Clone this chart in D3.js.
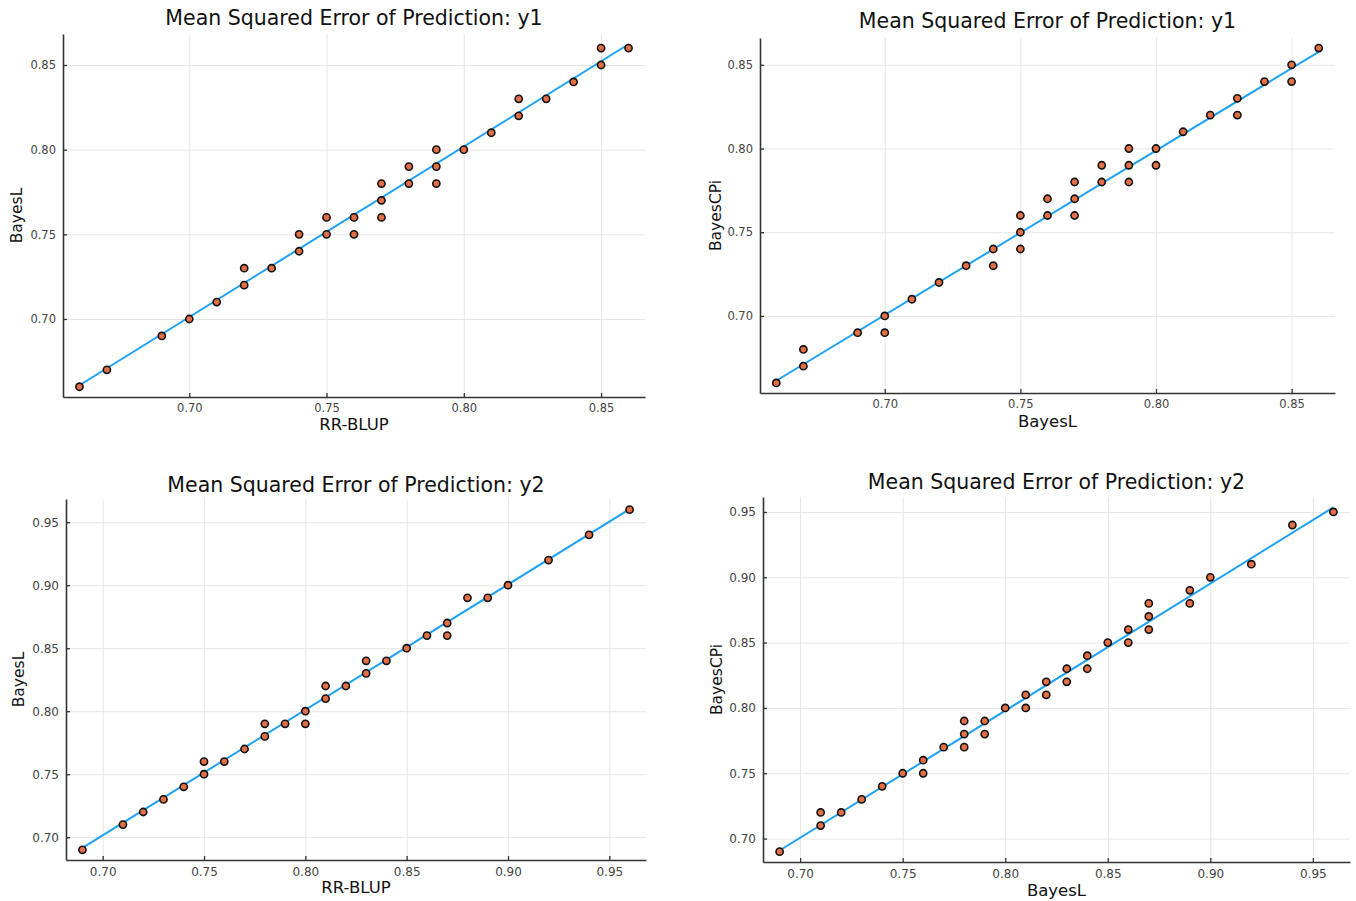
<!DOCTYPE html>
<html>
<head>
<meta charset="utf-8">
<script src="https://cdn.jsdelivr.net/npm/d3@7"></script>
<style>
  html, body { margin: 0; padding: 0; background: #fff; }
  svg { display: block; }
  text { font-family: "DejaVu Sans", sans-serif; }
</style>
</head>
<body>
<svg id="chart" width="1356" height="901"></svg>
<script>
// ---- Data: MSE of prediction per replicate, compared between methods ----
// y1: RR-BLUP (x) vs BayesL (y)
const y1RRBLUP   = [0.66,0.67,0.69,0.70,0.71,0.72,0.72,0.73,0.74,0.74,0.75,0.75,0.76,0.76,0.77,0.77,0.77,0.78,0.78,0.79,0.79,0.79,0.80,0.81,0.82,0.82,0.83,0.84,0.85,0.85,0.86];
const y1BayesLvR = [0.66,0.67,0.69,0.70,0.71,0.72,0.73,0.73,0.74,0.75,0.75,0.76,0.76,0.75,0.77,0.78,0.76,0.78,0.79,0.79,0.80,0.78,0.80,0.81,0.82,0.83,0.83,0.84,0.85,0.86,0.86];
// y1: BayesL (x) vs BayesCPi (y)
const y1BayesL   = [0.66,0.67,0.67,0.69,0.70,0.70,0.71,0.72,0.73,0.74,0.74,0.75,0.75,0.75,0.76,0.76,0.77,0.77,0.77,0.78,0.78,0.79,0.79,0.79,0.80,0.80,0.81,0.82,0.83,0.83,0.84,0.85,0.85,0.86];
const y1BayesCPi = [0.66,0.68,0.67,0.69,0.70,0.69,0.71,0.72,0.73,0.74,0.73,0.75,0.76,0.74,0.76,0.77,0.77,0.78,0.76,0.78,0.79,0.79,0.80,0.78,0.80,0.79,0.81,0.82,0.83,0.82,0.84,0.85,0.84,0.86];
// y2: RR-BLUP (x) vs BayesL (y)
const y2RRBLUP   = [0.69,0.71,0.72,0.73,0.74,0.75,0.75,0.76,0.77,0.78,0.78,0.79,0.80,0.80,0.81,0.81,0.82,0.83,0.83,0.84,0.85,0.86,0.87,0.87,0.88,0.89,0.90,0.92,0.94,0.96];
const y2BayesLvR = [0.69,0.71,0.72,0.73,0.74,0.75,0.76,0.76,0.77,0.78,0.79,0.79,0.80,0.79,0.81,0.82,0.82,0.83,0.84,0.84,0.85,0.86,0.87,0.86,0.89,0.89,0.90,0.92,0.94,0.96];
// y2: BayesL (x) vs BayesCPi (y)
const y2BayesL   = [0.69,0.71,0.71,0.72,0.73,0.74,0.75,0.76,0.76,0.77,0.78,0.78,0.78,0.79,0.79,0.80,0.81,0.81,0.82,0.82,0.83,0.83,0.84,0.84,0.85,0.86,0.86,0.87,0.87,0.87,0.89,0.89,0.90,0.92,0.94,0.96];
const y2BayesCPi = [0.69,0.72,0.71,0.72,0.73,0.74,0.75,0.76,0.75,0.77,0.79,0.78,0.77,0.79,0.78,0.80,0.81,0.80,0.82,0.81,0.83,0.82,0.84,0.83,0.85,0.86,0.85,0.88,0.87,0.86,0.89,0.88,0.90,0.91,0.94,0.95];

// Tick values
const ticksY1 = [0.70, 0.75, 0.80, 0.85];
const ticksY2 = [0.70, 0.75, 0.80, 0.85, 0.90, 0.95];

// Titles and axis labels
const titleY1 = "Mean Squared Error of Prediction: y1";
const titleY2 = "Mean Squared Error of Prediction: y2";

const COLOR_LINE = "#1EA1F5";
const COLOR_MARK = "#E36F47";

const svg = d3.select("#chart");

// Panel boxes (plot area in page pixels)
const panels = [
  { xs: y1RRBLUP, ys: y1BayesLvR, ticks: ticksY1, title: titleY1, xLabel: "RR-BLUP", yLabel: "BayesL",
    box: { l: 63, r: 645, t: 34, b: 397 }, titleY: 25, xLabelY: 430, yLabelX: 22, tickFont: 11.5 },
  { xs: y1BayesL, ys: y1BayesCPi, ticks: ticksY1, title: titleY1, xLabel: "BayesL", yLabel: "BayesCPi",
    box: { l: 760, r: 1335, t: 38, b: 393 }, titleY: 28, xLabelY: 427, yLabelX: 721, tickFont: 11.5 },
  { xs: y2RRBLUP, ys: y2BayesLvR, ticks: ticksY2, title: titleY2, xLabel: "RR-BLUP", yLabel: "BayesL",
    box: { l: 66, r: 646, t: 499, b: 860 }, titleY: 492, xLabelY: 893, yLabelX: 24, tickFont: 12 },
  { xs: y2BayesL, ys: y2BayesCPi, ticks: ticksY2, title: titleY2, xLabel: "BayesL", yLabel: "BayesCPi",
    box: { l: 763, r: 1350, t: 497, b: 862 }, titleY: 489, xLabelY: 896, yLabelX: 722, tickFont: 12 }
];

// Ordinary least-squares fit of y on x
function linearFit(xs, ys) {
  const mx = d3.mean(xs), my = d3.mean(ys);
  let sxy = 0, sxx = 0;
  xs.forEach((x, i) => { sxy += (x - mx) * (ys[i] - my); sxx += (x - mx) * (x - mx); });
  const slope = sxy / sxx;
  const intercept = my - slope * mx;
  return x => intercept + slope * x;
}

// Widen an extent by 3% of its span on each side
function widen([lo, hi]) {
  const pad = (hi - lo) * 0.03;
  return [lo - pad, hi + pad];
}

panels.forEach(p => {
  const { l, r, t, b } = p.box;
  const fit = linearFit(p.xs, p.ys);
  const xExt = d3.extent(p.xs);
  const linePts = xExt.map(x => [x, fit(x)]);
  const yExt = d3.extent(p.ys.concat(linePts.map(d => d[1])));

  const x = d3.scaleLinear().domain(widen(xExt)).range([l, r]);
  const y = d3.scaleLinear().domain(widen(yExt)).range([b, t]);

  const g = svg.append("g");

  // grid
  g.append("g")
    .attr("transform", `translate(0,${b})`)
    .call(d3.axisBottom(x).tickValues(p.ticks).tickSize(-(b - t)).tickFormat(""))
    .call(s => s.select(".domain").remove())
    .call(s => s.selectAll("line").attr("stroke", "#e6e6e6").attr("stroke-width", 1));
  g.append("g")
    .attr("transform", `translate(${l},0)`)
    .call(d3.axisLeft(y).tickValues(p.ticks).tickSize(-(r - l)).tickFormat(""))
    .call(s => s.select(".domain").remove())
    .call(s => s.selectAll("line").attr("stroke", "#e6e6e6").attr("stroke-width", 1));

  // fitted line
  g.append("path")
    .datum(linePts)
    .attr("fill", "none")
    .attr("stroke", COLOR_LINE)
    .attr("stroke-width", 2)
    .attr("d", d3.line().x(d => x(d[0])).y(d => y(d[1])));

  // points
  g.append("g").selectAll("circle")
    .data(p.xs.map((v, i) => [v, p.ys[i]]))
    .join("circle")
    .attr("cx", d => x(d[0]))
    .attr("cy", d => y(d[1]))
    .attr("r", 3.6)
    .attr("fill", COLOR_MARK)
    .attr("stroke", "#111")
    .attr("stroke-width", 1.6);

  // axes with inward ticks
  const styleAxis = s => {
    s.select(".domain").attr("stroke", "#333").attr("stroke-width", 1.6);
    s.selectAll(".tick line").attr("stroke", "#333").attr("stroke-width", 1.3);
    s.selectAll(".tick text").attr("fill", "#444").style("font-size", p.tickFont + "px")
      .style("font-family", '"DejaVu Sans", sans-serif');
  };
  g.append("g")
    .attr("transform", `translate(0,${b})`)
    .call(d3.axisBottom(x).tickValues(p.ticks).tickFormat(d3.format(".2f"))
      .tickSizeInner(-4).tickSizeOuter(0).tickPadding(7))
    .call(styleAxis);
  g.append("g")
    .attr("transform", `translate(${l},0)`)
    .call(d3.axisLeft(y).tickValues(p.ticks).tickFormat(d3.format(".2f"))
      .tickSizeInner(-4).tickSizeOuter(0).tickPadding(7))
    .call(styleAxis);

  // title and labels
  g.append("text")
    .attr("x", (l + r) / 2).attr("y", p.titleY)
    .attr("text-anchor", "middle")
    .attr("fill", "#111")
    .style("font-size", "20.5px")
    .text(p.title);
  g.append("text")
    .attr("x", (l + r) / 2).attr("y", p.xLabelY)
    .attr("text-anchor", "middle")
    .attr("fill", "#111")
    .style("font-size", "16.5px")
    .text(p.xLabel);
  g.append("text")
    .attr("transform", `translate(${p.yLabelX},${(t + b) / 2}) rotate(-90)`)
    .attr("text-anchor", "middle")
    .attr("fill", "#111")
    .style("font-size", "15.5px")
    .text(p.yLabel);
});
</script>
</body>
</html>
